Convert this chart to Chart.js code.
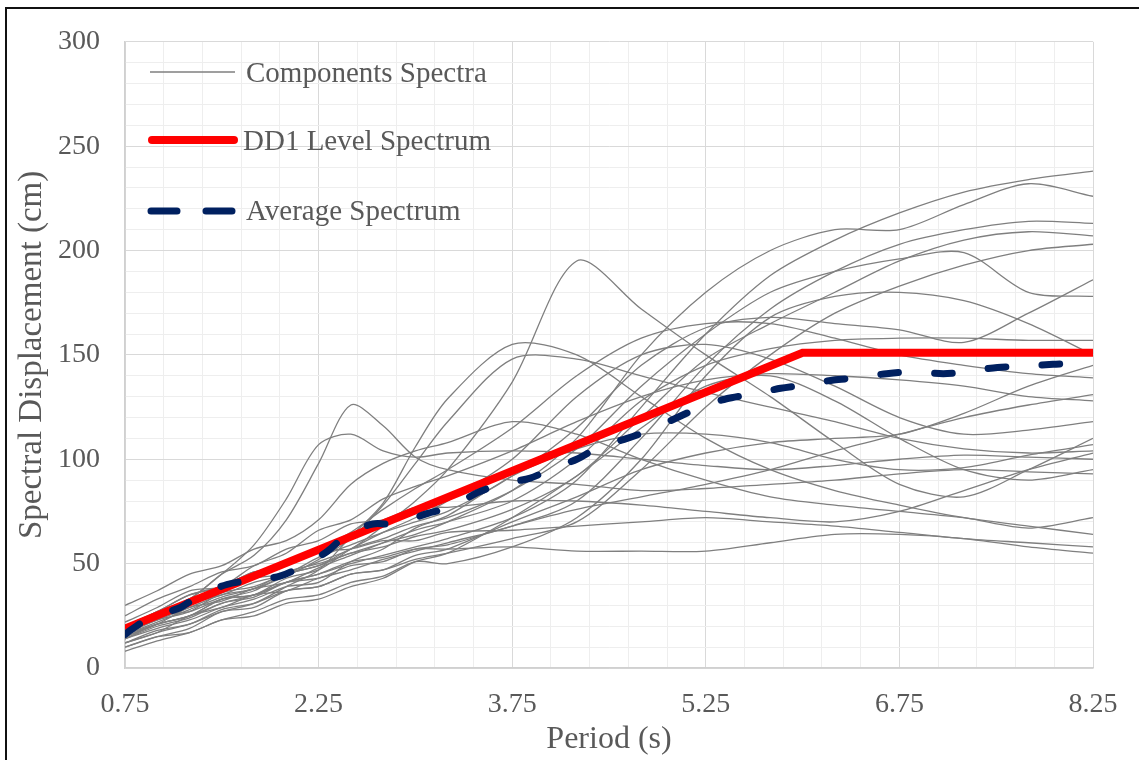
<!DOCTYPE html>
<html>
<head>
<meta charset="utf-8">
<title>Spectral Displacement</title>
<script src="https://cdn.jsdelivr.net/npm/chart.js@4.4.1/dist/chart.umd.min.js"></script>
<style>
  html, body { margin: 0; padding: 0; background: #fff; }
  #wrap  { position: relative; width: 1139px; height: 760px; overflow: hidden; }
  #frame { position: absolute; left: 5px; top: 7px; width: 2000px; height: 2000px;
           border-left: 2px solid #111; border-top: 2px solid #111; pointer-events: none; }
  #legend { position: absolute; left: 0; top: 0; pointer-events: none; }
  .leg { position: absolute; font-family: 'Liberation Serif', 'Times New Roman', serif;
         font-size: 29px; line-height: 30px; color: #595959; white-space: nowrap; }
</style>
</head>
<body>
<div id="wrap">
  <canvas id="chart" width="1139" height="760"></canvas>
  <svg id="legend" width="1139" height="760">
    <line x1="150" y1="72" x2="235" y2="72" stroke="#7f7f7f" stroke-width="1.3"/>
    <line x1="152" y1="140" x2="234" y2="140" stroke="#ff0000" stroke-width="8" stroke-linecap="round"/>
    <line x1="151" y1="211" x2="233" y2="211" stroke="#002060" stroke-width="7" stroke-linecap="round" stroke-dasharray="26 29"/>
  </svg>
  <div class="leg" style="left:246px; top:57px;">Components Spectra</div>
  <div class="leg" style="left:243px; top:125px;">DD1 Level Spectrum</div>
  <div class="leg" style="left:246px; top:195px;">Average Spectrum</div>
  <div id="frame"></div>
</div>

<script>
/* ── Data ─────────────────────────────────────────────────────────────────── */
const PERIODS = [0.75, 1.0, 1.25, 1.5, 1.75, 2.0, 2.25, 2.5, 2.75, 3.0, 3.25,
                 3.75, 4.25, 4.75, 5.25, 5.75, 6.25, 6.75, 7.25, 7.75, 8.25];

// individual ground-motion component spectra (cm), one value per period above
const c01 = [14, 20, 24, 31, 34, 41, 45, 50, 54, 58, 62,   72,  90, 125, 160, 188, 205, 218, 228, 234, 238];
const c02 = [18, 23, 29, 35, 38, 46, 50, 55, 60, 64, 70,   85, 110, 150, 180, 200, 210, 210, 222, 232, 226];
const c03 = [12, 17, 25, 29, 35, 37, 43, 47, 52, 56, 60,   68,  80, 110, 145, 172, 190, 203, 210, 214, 213];
const c04 = [16, 23, 27, 36, 39, 45, 49, 55, 58, 63, 66,   76,  92, 120, 148, 165, 180, 195, 205, 209, 207];
const c05 = [10, 15, 19, 27, 29, 37, 39, 45, 47, 52, 55,   62,  70,  95, 125, 150, 170, 183, 193, 200, 203];
const c06 = [14, 21, 25, 33, 37, 45, 49, 57, 62, 68, 72,   85, 105, 135, 160, 180, 190, 196, 199, 180, 178];
const c07 = [18, 23, 31, 35, 41, 45, 53, 59, 65, 70, 75,   92, 115, 145, 163, 168, 165, 162, 156, 170, 186];
const c08 = [15, 21, 29, 32, 38, 41, 48, 54, 60, 66, 70,   80, 100, 128, 145, 153, 157, 158, 158, 157, 157];
const c09 = [12, 18, 21, 28, 31, 37, 39, 45, 47, 54, 57,   70,  82,  95, 103, 108, 110, 112, 122, 135, 145];
const c10 = [20, 27, 35, 39, 46, 49, 57, 65, 76, 86, 95,  115, 140, 158, 165, 165, 158, 150, 145, 141, 139];
const c11 = [16, 21, 25, 31, 35, 41, 43, 49, 51, 57, 59,   68,  76,  82,  88,  95, 104, 112, 120, 126, 131];
const c12 = [22, 29, 37, 39, 49, 55, 66, 71, 81, 87, 92,  104, 118, 130, 138, 141, 140, 138, 135, 130, 128];
const c13 = [18, 25, 27, 33, 35, 43, 47, 57, 65, 72, 80,  100, 130, 150, 155, 148, 135, 120, 112, 114, 118];
const c14 = [20, 25, 33, 37, 43, 45, 51, 57, 68, 80, 95,  137, 195, 172, 150, 130, 108,  88,  82,  95, 110];
const c15 = [14, 19, 23, 29, 33, 39, 41, 51, 57, 67, 73,   92, 105, 112, 112, 108, 100,  95,  96, 102, 107];
const c16 = [25, 33, 39, 46, 49, 57, 61, 69, 71, 77, 77,   80,  80,  78,  75,  72,  70,  75,  85,  95, 103];
const c17 = [10, 15, 17, 23, 25, 31, 33, 39, 43, 51, 55,   72,  92, 115, 135, 140, 128, 110,  95,  90,  95];
const c18 = [30, 37, 45, 49, 57, 61, 71, 88, 98, 104, 108, 118, 112, 100,  90,  82,  78,  75,  72,  67,  72];
const c19 = [20, 27, 35, 39, 46, 49, 56, 57, 61, 61, 65,   66,  68,  70,  72,  70,  68,  65,  62,  60,  58];
const c20 = [15, 21, 25, 33, 35, 41, 45, 51, 53, 57, 57,   58,  56,  56,  56,  60,  64,  64,  62,  58,  55];
const c21 = [18, 27, 33, 45, 54, 71, 98, 126, 116, 101, 95,  90,  88,  85,  86,  88,  90,  93,  95,  94,  93];
const c22 = [12, 17, 21, 27, 31, 39, 47, 63, 79, 106, 129, 155, 150, 130, 110,  95,  85,  78,  72,  68,  64];
const c23 = [16, 25, 33, 45, 59, 81, 107, 112, 104, 101, 103, 104, 103, 100, 97, 95,  97, 100, 102, 101, 100];
const c24 = [ 8, 13, 17, 23, 27, 33, 35, 41, 44, 51, 50,   58,  72, 100, 140, 168, 178, 180, 176, 165, 150];
const c25 = [16, 22, 28, 34, 38, 44, 52, 62, 78, 98, 118, 148, 148, 140, 132, 125, 118, 110, 105, 103, 104];
const COMPONENTS = [c01, c02, c03, c04, c05, c06, c07, c08, c09, c10, c11, c12, c13,
                    c14, c15, c16, c17, c18, c19, c20, c21, c22, c23, c24, c25];

// DD1 design level spectrum
const DD1_PERIODS = [0.75, 6.0, 8.25];
const DD1_VALUES  = [18.9, 151, 151];

// average of the components
const AVG_PERIODS = [0.75, 0.79, 0.94, 1.18, 1.33, 1.54, 1.72, 1.95, 2.13, 2.32, 2.47, 2.67, 2.86,
                     3.09, 3.27, 3.48, 3.66, 3.89, 4.04, 4.25, 4.43, 4.64, 4.82, 5.03, 5.21,
                     5.41, 5.59, 5.83, 6.00, 6.24, 6.42, 6.65, 6.86, 7.09, 7.27, 7.51, 7.68,
                     7.94, 8.13, 8.25];
const AVG_VALUES  = [16, 18, 24, 29, 35, 40, 42, 44, 49, 56, 64, 69, 69,
                     74, 77, 84, 88, 91, 95, 100, 106, 110, 114, 120, 125,
                     129, 131, 134, 135.5, 138, 139, 141, 142, 141, 142, 144, 144.5,
                     145.5, 146, 147];

// axis grid / tick labels
const X_MIN = 0.75, X_MAX = 8.25, X_MAJOR = 1.5, X_MINOR = 0.3;
const Y_MIN = 0,    Y_MAX = 300,  Y_MAJOR = 50,  Y_MINOR = 10;

/* ── Helpers ──────────────────────────────────────────────────────────────── */
const FONT_FAMILY = "'Liberation Serif', 'Times New Roman', serif";
const TEXT_COLOR  = '#595959';
const GRID_MAJOR  = '#d9d9d9';
const GRID_MINOR  = '#eeeeee';

const toPoints = (xs, ys) => xs.map((x, i) => ({ x, y: ys[i] }));
const isMajorX = v => { const k = (v - X_MIN) / X_MAJOR; return Math.abs(k - Math.round(k)) < 1e-6; };
const isMajorY = v => Math.abs(v % Y_MAJOR) < 1e-6;

const xGrid = [];
for (let i = 0; i <= Math.round((X_MAX - X_MIN) / X_MINOR); i++) xGrid.push(+(X_MIN + i * X_MINOR).toFixed(2));
const yGrid = [];
for (let v = Y_MIN; v <= Y_MAX; v += Y_MINOR) yGrid.push(v);

/* ── Datasets ─────────────────────────────────────────────────────────────── */
const datasets = [
  {
    label: 'Average Spectrum',
    data: toPoints(AVG_PERIODS, AVG_VALUES),
    borderColor: '#002060',
    borderWidth: 7,
    borderDash: [18, 36],
    borderCapStyle: 'round',
    tension: 0.3,
    order: 0,
  },
  {
    label: 'DD1 Level Spectrum',
    data: toPoints(DD1_PERIODS, DD1_VALUES),
    borderColor: '#ff0000',
    borderWidth: 8,
    borderCapStyle: 'butt',
    tension: 0,
    order: 1,
  },
  ...COMPONENTS.map((vals, i) => ({
    label: i === 0 ? 'Components Spectra' : 'Component ' + (i + 1),
    data: toPoints(PERIODS, vals),
    borderColor: '#7f7f7f',
    borderWidth: 1.3,
    tension: 0.3,
    order: 2,
  })),
];

/* ── Chart ────────────────────────────────────────────────────────────────── */
new Chart(document.getElementById('chart'), {
  type: 'line',
  data: { datasets },
  options: {
    responsive: false,
    animation: false,
    devicePixelRatio: 1,
    elements: { point: { radius: 0 } },
    layout: { padding: { top: 37, right: 46, left: 0, bottom: 0 } },
    plugins: { legend: { display: false }, tooltip: { enabled: false } },
    scales: {
      x: {
        type: 'linear',
        min: X_MIN,
        max: X_MAX,
        afterBuildTicks: s => { s.ticks = xGrid.map(value => ({ value })); },
        afterFit: s => { s.height = 92; },
        ticks: {
          autoSkip: false,
          maxRotation: 0,
          padding: 20,
          color: TEXT_COLOR,
          font: { family: FONT_FAMILY, size: 28 },
          callback: v => isMajorX(v) ? v.toFixed(2) : '',
        },
        grid: {
          drawTicks: false,
          color: ctx => isMajorX(ctx.tick.value) ? GRID_MAJOR : GRID_MINOR,
        },
        border: { color: '#d0d0d0', width: 1.5 },
        title: {
          display: true,
          text: 'Period (s)',
          color: TEXT_COLOR,
          font: { family: FONT_FAMILY, size: 32 },
          padding: { top: 0, bottom: 1 },
        },
      },
      y: {
        min: Y_MIN,
        max: Y_MAX,
        afterBuildTicks: s => { s.ticks = yGrid.map(value => ({ value })); },
        afterFit: s => { s.width = 125; },
        ticks: {
          autoSkip: false,
          padding: 25,
          color: TEXT_COLOR,
          font: { family: FONT_FAMILY, size: 28 },
          callback: v => isMajorY(v) ? String(v) : '',
        },
        grid: {
          drawTicks: false,
          color: ctx => isMajorY(ctx.tick.value) ? GRID_MAJOR : GRID_MINOR,
        },
        border: { color: '#d0d0d0', width: 1.5 },
        title: {
          display: true,
          text: 'Spectral Displacement (cm)',
          color: TEXT_COLOR,
          font: { family: FONT_FAMILY, size: 33 },
          padding: { top: 13, bottom: 0 },
        },
      },
    },
  },
});
</script>
</body>
</html>
